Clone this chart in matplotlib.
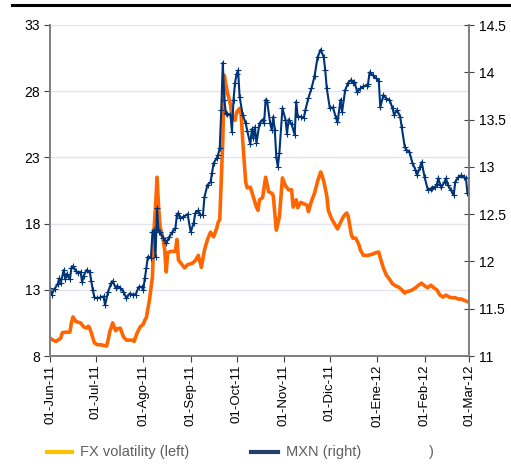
import numpy as np
import pandas as pd
import matplotlib
matplotlib.use("Agg")
import matplotlib.pyplot as plt
from matplotlib.lines import Line2D

plt.rcParams['font.family'] = ['Liberation Sans', 'DejaVu Sans']

# dias desde 01-Jun-11
start = pd.Timestamp('2011-06-01')
vol_days = [0, 2, 4, 7, 8, 10, 13, 14, 15, 17, 20, 22, 24, 25, 26, 27, 29, 31, 33, 35,
            37, 38, 39, 41, 43, 44, 46, 48, 50, 52, 54, 55, 57, 59, 61, 62, 63, 65, 67, 68,
            69, 70, 71, 72, 74, 75, 76, 77, 79, 82, 83, 84, 86, 88, 90, 93, 95, 96, 97, 99,
            101, 103, 105, 107, 109, 110, 111, 112, 113, 114, 115, 116, 118, 119, 121, 122, 124, 125, 126, 128,
            129, 131, 133, 135, 136, 137, 139, 141, 143, 145, 146, 147, 148, 150, 152, 154, 156, 158, 159, 161,
            162, 164, 166, 168, 169, 171, 173, 175, 177, 178, 179, 181, 182, 184, 186, 188, 190, 192, 194, 195,
            197, 198, 200, 202, 203, 205, 208, 211, 213, 215, 216, 218, 220, 222, 224, 226, 228, 230, 232, 233,
            235, 237, 239, 241, 243, 245, 247, 249, 251, 253, 255, 257, 259, 261, 263, 265, 267, 269, 271, 273, 274]
vol = [9.36, 9.2, 9.1, 9.35, 9.75, 9.8, 9.8, 10.5, 10.95, 10.6, 10.5, 10.2, 10.1, 10.25, 10.1, 9.75, 9.0, 8.85, 8.85, 8.8,
       8.75, 9.2, 9.8, 10.5, 9.9, 10.05, 10.1, 9.45, 9.2, 9.2, 9.2, 9.1, 9.75, 10.2, 10.4, 10.7, 10.9, 12.2, 14.0, 17.5,
       19.25, 21.5, 19.25, 17.75, 16.8, 16.0, 14.35, 15.8, 15.9, 15.9, 16.8, 15.25, 14.95, 14.65, 14.9, 15.0, 15.2, 15.4, 15.6, 14.7,
       16.0, 16.8, 17.35, 17.0, 17.65, 18.1, 18.3, 21.3, 24.3, 29.2, 28.5, 27.9, 27.0, 26.1, 25.8, 26.4, 26.7, 26.2, 24.3, 21.1,
       20.7, 20.75, 20.0, 19.25, 19.0, 19.8, 19.95, 21.5, 20.4, 20.3, 20.1, 18.8, 17.5, 18.5, 21.45, 20.85, 20.55, 20.55, 19.25, 19.8,
       19.2, 19.6, 19.5, 19.4, 18.9, 19.7, 20.3, 21.2, 21.9, 21.6, 21.2, 20.1, 19.0, 18.4, 18.0, 17.6, 18.1, 18.55, 18.8, 18.55,
       17.2, 16.9, 16.9, 16.4, 16.0, 15.6, 15.6, 15.7, 15.8, 15.85, 15.4, 14.65, 14.1, 13.8, 13.45, 13.3, 13.2, 13.0, 12.75, 12.85,
       12.9, 13.0, 13.15, 13.35, 13.5, 13.3, 13.15, 13.35, 13.15, 13.0, 12.6, 12.45, 12.6, 12.45, 12.4, 12.4, 12.3, 12.3, 12.2, 12.1, 12.1]

mxn_days = [0, 1, 3, 5, 6, 7, 9, 10, 11, 13, 14, 15, 17, 18, 20, 21, 22, 24, 26, 27,
            28, 29, 31, 33, 35, 36, 38, 40, 41, 43, 44, 46, 48, 50, 52, 54, 56, 58, 60, 61,
            62, 63, 64, 66, 67, 68, 69, 70, 71, 72, 74, 75, 76, 78, 80, 82, 83, 84, 85, 87,
            90, 92, 94, 95, 97, 98, 100, 101, 103, 105, 106, 107, 109, 110, 111, 112, 113, 114, 115, 116,
            118, 119, 120, 121, 122, 123, 124, 126, 128, 129, 131, 132, 133, 134, 135, 137, 139, 140, 141, 142,
            144, 145, 146, 147, 148, 149, 150, 152, 154, 155, 156, 158, 160, 161, 162, 164, 166, 167, 169, 171,
            173, 175, 177, 179, 180, 181, 183, 185, 187, 188, 190, 191, 193, 195, 197, 198, 199, 201, 203, 205,
            207, 208, 209, 211, 213, 215, 216, 218, 220, 222, 224, 225, 227, 229, 230, 232, 233, 235, 237, 239,
            240, 242, 243, 245, 247, 249, 250, 252, 253, 254, 255, 256, 258, 259, 260, 262, 264, 265, 267, 269,
            271, 272, 273]
mxn = [11.72, 11.65, 11.71, 11.76, 11.82, 11.77, 11.91, 11.81, 11.87, 11.81, 11.93, 11.95, 11.90, 11.88, 11.89, 11.78, 11.85, 11.91, 11.89, 11.79,
       11.70, 11.62, 11.61, 11.62, 11.63, 11.54, 11.68, 11.77, 11.79, 11.72, 11.74, 11.72, 11.68, 11.61, 11.66, 11.65, 11.65, 11.73, 11.73, 11.70,
       11.82, 11.93, 12.05, 12.04, 12.31, 12.33, 12.05, 12.56, 12.31, 12.31, 12.25, 12.23, 12.19, 12.26, 12.31, 12.35, 12.49, 12.51, 12.46, 12.47,
       12.50, 12.31, 12.41, 12.51, 12.54, 12.49, 12.49, 12.68, 12.81, 12.84, 12.94, 13.04, 13.09, 13.13, 13.20, 13.60, 14.10, 13.71, 13.57, 13.56,
       13.55, 13.37, 13.71, 13.89, 13.98, 14.02, 13.74, 13.55, 13.46, 13.38, 13.24, 13.40, 13.31, 13.42, 13.25, 13.46, 13.50, 13.46, 13.71, 13.69,
       13.46, 13.39, 13.53, 13.39, 13.10, 13.00, 13.15, 13.62, 13.50, 13.35, 13.50, 13.45, 13.34, 13.69, 13.53, 13.53, 13.52, 13.60, 13.73, 13.83,
       13.96, 14.16, 14.24, 14.16, 14.02, 13.83, 13.62, 13.63, 13.52, 13.47, 13.71, 13.58, 13.81, 13.89, 13.92, 13.89, 13.90, 13.79, 13.83, 13.85,
       13.86, 13.88, 14.00, 13.97, 13.94, 13.91, 13.63, 13.76, 13.72, 13.71, 13.62, 13.55, 13.60, 13.53, 13.42, 13.21, 13.18, 13.16, 13.04, 12.97,
       12.91, 13.00, 13.05, 12.89, 12.76, 12.77, 12.78, 12.79, 12.82, 12.88, 12.81, 12.79, 12.84, 12.88, 12.81, 12.76, 12.70, 12.84, 12.89, 12.91,
       12.89, 12.88, 12.72]

month_labels = ['01-Jun-11', '01-Jul-11', '01-Ago-11', '01-Sep-11', '01-Oct-11',
                '01-Nov-11', '01-Dic-11', '01-Ene-12', '01-Feb-12', '01-Mar-12']
left_ticks = [8, 13, 18, 23, 28, 33]
right_ticks = [11, 11.5, 12, 12.5, 13, 13.5, 14, 14.5]

vol_dates = start + pd.to_timedelta(vol_days, unit='D')
mxn_dates = start + pd.to_timedelta(mxn_days, unit='D')
month_ticks = pd.date_range('2011-06-01', '2012-03-01', freq='MS')

fig = plt.figure(figsize=(5.11, 4.74), dpi=100)
ax = fig.add_axes([50/511, 1-356/474, 419/511, 331/474])
ax2 = ax.twinx()

orange = '#FF6600'
navy = '#003478'
axis_gray = '#7f7f7f'

ax.plot(vol_dates, vol, color=orange, lw=2.6, solid_joinstyle='round')
ax2.plot(mxn_dates, mxn, color=navy, lw=1.5, marker='+', ms=4, mew=0.8)

ax.set_ylim(8, 33)
ax.set_yticks(left_ticks)
ax2.set_ylim(11, 14.5)
ax2.set_yticks(right_ticks)
ax2.set_yticklabels(['%g' % t for t in right_ticks])
ax.set_xlim(month_ticks[0], month_ticks[-1])
ax.set_xticks(month_ticks)
ax.set_xticklabels(month_labels, rotation=90)

ax.grid(axis='y', color='#e4e4ec', lw=1.0)
ax.set_axisbelow(True)

for a in (ax, ax2):
    a.spines['top'].set_visible(False)
    for s in ('left', 'right', 'bottom'):
        a.spines[s].set_color(axis_gray)
        a.spines[s].set_linewidth(1.2)
ax.tick_params(axis='y', direction='out', length=4, color='#404040', labelsize=10, pad=3)
ax.tick_params(axis='x', direction='out', length=4, color='#404040', labelsize=9.5, pad=2)
ax2.tick_params(axis='y', direction='inout', length=7, color='#404040', labelsize=10, pad=4)

# top rule
fig.add_artist(Line2D([12/511, 1.0], [1-5/474, 1-5/474], color='black', lw=2.2))

# legend
ly = 1 - 452/474
fig.add_artist(Line2D([47/511, 72/511], [ly, ly], color='#FFC000', lw=3))
fig.text(80/511, ly, 'FX volatility (left)', color='#606060', fontsize=10.5, va='center')
fig.add_artist(Line2D([251/511, 278/511], [ly, ly], color='#243f66', lw=3))
fig.text(286/511, ly, 'MXN (right)', color='#606060', fontsize=10.5, va='center')
fig.text(429/511, ly, ')', color='#606060', fontsize=10.5, va='center')

fig.savefig('out.png', dpi=100)
